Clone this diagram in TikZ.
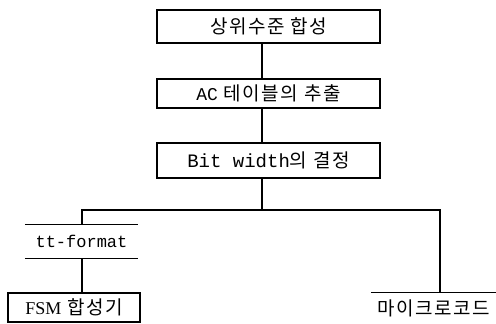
\documentclass[tikz,border=0pt]{standalone}
\usepackage{fontspec}
\newfontfamily\kr[LetterSpace=8]{Noto Sans CJK KR}
\newfontfamily\mn{Liberation Mono}
\newfontfamily\sr{Liberation Serif}
\begin{document}
\begin{tikzpicture}[x=1pt,y=-1pt,
  box/.style={draw,line width=1.2pt,inner sep=0pt,font=\kr\fontsize{19}{19}\selectfont},
  plain/.style={inner sep=0pt,font=\kr\fontsize{19}{19}\selectfont},
  ln/.style={line width=1.2pt}]
\useasboundingbox (0,0) rectangle (496,324);
\node[box,minimum width=223pt,minimum height=33pt] (b1) at (268.5,26.5) {상위수준 합성};
\node[box,minimum width=223pt,minimum height=29pt] (b2) at (268.5,93.5) {{\mn\fontsize{18}{18}\selectfont AC} 테이블의 추출};
\node[box,minimum width=223pt,minimum height=35pt] (b3) at (268.5,160.5) {{\mn\fontsize{19}{19}\selectfont Bit width}의 결정};
\node[plain,minimum width=113pt,minimum height=33pt,font=\mn\fontsize{17}{17}\selectfont] (tt) at (81.5,241.5) {tt-format};
\node[box,minimum width=132pt,minimum height=29pt] (fsm) at (74,307.5) {{\sr\fontsize{18}{18}\selectfont FSM} 합성기};
\node[plain,minimum width=125pt,minimum height=30pt] (mc) at (433.5,308) {마이크로코드};
\coordinate (tc) at (262,0);
\coordinate (lx) at (82,0);
\coordinate (rx) at (440,0);
\coordinate (jy) at (0,210);
\draw[ln] (b1.south -| tc) -- (b2.north -| tc);
\draw[ln] (b2.south -| tc) -- (b3.north -| tc);
\draw[ln] (b3.south -| tc) -- (tc |- jy);
\draw[ln] (tt.north -| lx) -- (lx |- jy) -- (rx |- jy) -- (mc.north -| rx);
\draw[ln] (tt.north west) -- (tt.north east);
\draw[ln] (tt.south west) -- (tt.south east);
\draw[ln] (tt.south -| lx) -- (fsm.north -| lx);
\draw[ln] (mc.north west) -- (mc.north east);
\end{tikzpicture}
\end{document}
